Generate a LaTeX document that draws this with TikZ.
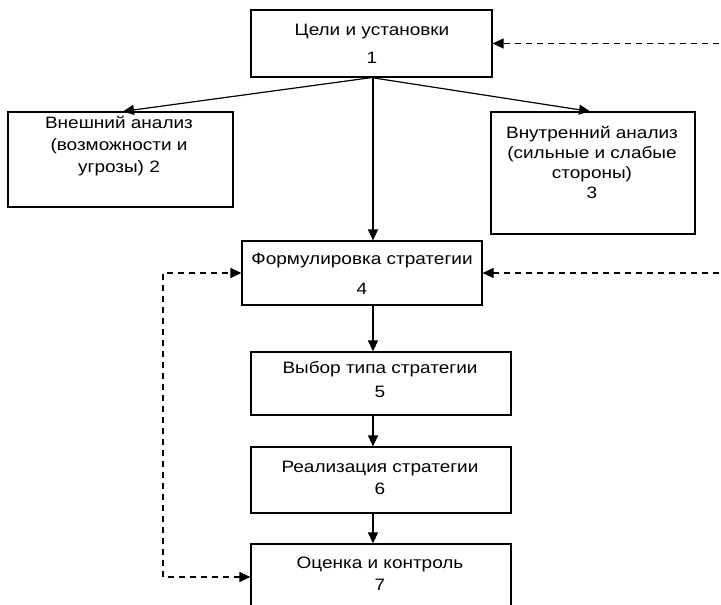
\documentclass[tikz,border=0pt]{standalone}
\usepackage{fontspec}
\setmainfont{Liberation Sans}[FakeStretch=1.15]
\usetikzlibrary{arrows.meta}
\begin{document}
\begin{tikzpicture}[x=1pt,y=-1pt,
  box/.style={draw, line width=1.2pt, inner sep=0pt},
  txt/.style={align=center, font=\fontsize{16.5}{20}\selectfont, inner sep=0pt},
  arr/.style={line width=1.2pt, -{Triangle[length=11pt,width=10pt]}},
  darr/.style={line width=1.2pt, dash pattern=on 6pt off 5pt, -{Triangle[length=11pt,width=10pt]}},
  ddarr/.style={line width=1.2pt, dash pattern=on 6pt off 5pt, {Triangle[length=11pt,width=10pt]}-{Triangle[length=11pt,width=10pt]}}]
\clip (0,0) rectangle (721,605);
\fill[white] (0,0) rectangle (721,605);
% boxes
\node[box, minimum width=241pt, minimum height=67pt] (b1) at (371.5,43.5) {};
\node[box, minimum width=225pt, minimum height=95pt] (b2) at (120.5,159.5) {};
\node[box, minimum width=204pt, minimum height=122pt] (b3) at (593,173) {};
\node[box, minimum width=240pt, minimum height=64pt] (b4) at (362,273) {};
\node[box, minimum width=260pt, minimum height=63pt] (b5) at (381,383.5) {};
\node[box, minimum width=260pt, minimum height=66pt] (b6) at (381,480) {};
\node[box, minimum width=260pt, minimum height=66pt] (b7) at (381,577) {};
% texts
\node[txt] (t1) at (372,44) {Цели и установки\\[8pt]1};
\node[txt] (t2) at (119,146) {Внешний анализ\\[2pt](возможности и\\[2pt]угрозы) 2};
\node[txt] (t3) at (592,162) {Внутренний анализ\\(сильные и слабые\\стороны)\\3};
\node[txt] (t4) at (362,274) {Формулировка стратегии\\[10pt]4};
\node[txt] (t5) at (380,380) {Выбор типа стратегии\\[4pt]5};
\node[txt] (t6) at (380,478) {Реализация стратегии\\[2pt]6};
\node[txt] (t7) at (380,574) {Оценка и контроль\\[2pt]7};
% helper coordinates
\coordinate (cx) at (373,0);
\coordinate (rx) at (730,0);
\coordinate (lx) at (163,0);
% solid connectors
\draw[arr] (b1.south) -- ([xshift=2.5pt]b2.north);
\draw[arr] (b1.south) -- ([xshift=-3pt]b3.north);
\draw[arr] (cx |- b1.south) -- (cx |- b4.north);
\draw[arr] (cx |- b4.south) -- (cx |- b5.north);
\draw[arr] (cx |- b5.south) -- (cx |- b6.north);
\draw[arr] (cx |- b6.south) -- (cx |- b7.north);
% dashed feedback
\draw[darr] (rx |- b1.east) -- (b1.east);
\draw[darr] (rx |- b4.east) -- (b4.east);
\draw[ddarr] (b7.west) -| (lx |- b4.west) -- (b4.west);
\end{tikzpicture}
\end{document}
